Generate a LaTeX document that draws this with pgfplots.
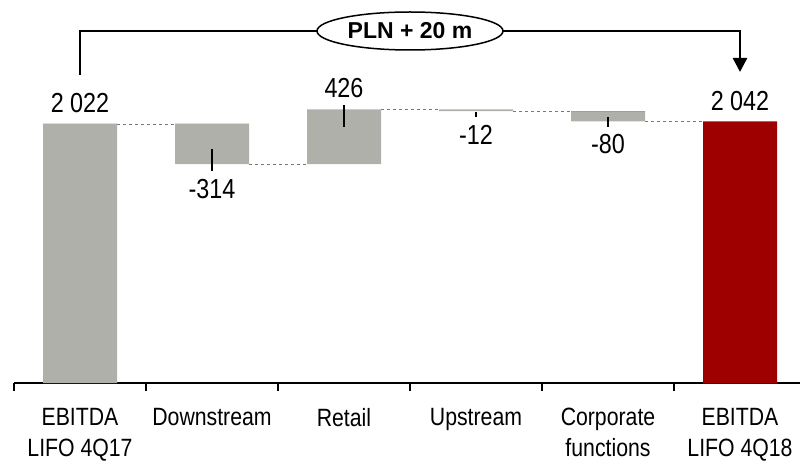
\documentclass[border=0pt]{standalone}
\usepackage{fontspec}
\setmainfont{Liberation Sans}[FakeStretch=0.85]
\newfontfamily\titlefont{Liberation Sans}
\usepackage{pgfplots}
\usepackage{pgfplotstable}
\pgfplotsset{compat=1.18}
\usetikzlibrary{arrows.meta,shapes.geometric}
\definecolor{bargray}{RGB}{176,176,171}
\definecolor{barred}{RGB}{158,0,0}
\definecolor{dashgray}{RGB}{120,120,120}

\pgfplotstableread{
x base gray red
0 0 2022 0
1 1708 314 0
2 1708 426 0
3 2122 12 0
4 2042 80 0
5 0 0 2042
}\wf

\begin{document}
\begin{tikzpicture}
\begin{axis}[
  at={(14pt,80pt)}, anchor=south west,
  scale only axis, width=792pt, height=383pt,
  xmin=-0.5, xmax=5.5, ymin=0, ymax=2990,
  axis x line*=bottom, axis y line=none,
  axis line style={line width=2pt, black},
  xtick={0,1,2,3,4,5},
  xticklabels={{EBITDA\\LIFO 4Q17}, Downstream, Retail, Upstream, {Corporate\\functions}, {EBITDA\\LIFO 4Q18}},
  major tick length=0pt,
  minor xtick={-0.5,0.5,1.5,2.5,3.5,4.5},
  minor tick length=8pt,
  xtick align=outside,
  every minor tick/.style={black, line width=1.5pt},
  clip=false,
  xticklabel style={font=\fontsize{25}{31}\selectfont, align=center, anchor=north, inner sep=0pt, yshift=-25pt},
]
\addplot[ybar, stack plots=y, bar width=74pt, bar shift=0pt, fill=none, draw=none] table[x=x,y=base]{\wf};
\addplot[ybar, stack plots=y, bar width=74pt, bar shift=0pt, fill=bargray, draw=none] table[x=x,y=gray]{\wf};
\addplot[ybar, stack plots=y, bar width=74pt, bar shift=0pt, fill=barred, draw=none] table[x=x,y=red]{\wf};

% connectors
\addplot[dashgray, dashed, line width=0.8pt, forget plot] coordinates {(0.28,2022) (0.72,2022)};
\addplot[dashgray, dashed, line width=0.8pt, forget plot] coordinates {(1.28,1708) (1.72,1708)};
\addplot[dashgray, dashed, line width=0.8pt, forget plot] coordinates {(2.28,2134) (2.72,2134)};
\addplot[dashgray, dashed, line width=0.8pt, forget plot] coordinates {(3.28,2122) (3.72,2122)};
\addplot[dashgray, dashed, line width=0.8pt, forget plot] coordinates {(4.28,2042) (4.72,2042)};

% leader lines
\addplot[black, line width=2pt, forget plot] coordinates {(1,1827) (1,1655)};
\addplot[black, line width=2pt, forget plot] coordinates {(2,2170) (2,1998)};
\addplot[black, line width=2pt, forget plot] coordinates {(3,2115) (3,2077)};
\addplot[black, line width=2pt, forget plot] coordinates {(4,2077) (4,1998)};

% value labels
\begin{scope}[every node/.style={anchor=base, inner sep=0pt, font=\fontsize{27.5}{33}\selectfont}]
\node at (axis cs:0,2115) {2 022};
\node at (axis cs:1,1444) {-314};
\node at (axis cs:2,2225) {426};
\node at (axis cs:3,1858) {-12};
\node at (axis cs:4,1788) {-80};
\node at (axis cs:5,2131) {2 042};
\end{scope}

% bracket
\draw[line width=2.5pt] (axis cs:0,2404) -- (axis cs:0,2748) -- ([xshift=-93pt]axis cs:2.5,2748);
\draw[line width=2.5pt, -{Triangle[width=14pt,length=14pt]}] ([xshift=93pt]axis cs:2.5,2748) -- (axis cs:5,2748) -- (axis cs:5,2428);
\node[draw, ellipse, line width=1.5pt, fill=white, minimum width=186pt, minimum height=38pt, inner sep=0pt]
  at (axis cs:2.5,2748) {\titlefont\bfseries\fontsize{23}{28}\selectfont PLN + 20 m};
\end{axis}
\pgfresetboundingbox
\path[use as bounding box] (0,0) rectangle (800pt,463pt);
\end{tikzpicture}
\end{document}
